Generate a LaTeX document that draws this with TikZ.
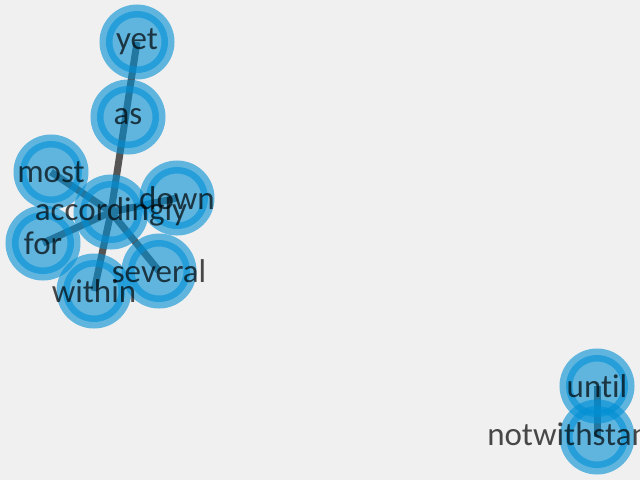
\documentclass[tikz,border=0pt]{standalone}
\usepackage{fontspec}
\setmainfont{Carlito}[Ligatures={NoCommon}]
\definecolor{bgc}{HTML}{F0F0F0}
\definecolor{nodec}{HTML}{008FD5}
\definecolor{edgec}{HTML}{555555}
\tikzset{
  vtx/.style={circle, minimum size=62pt, inner sep=0pt, line width=13pt, draw=nodec, fill=nodec, draw opacity=0.6, fill opacity=0.6},
  lbl/.style={inner sep=0pt, text=black, text opacity=0.7, font=\fontsize{33}{33}\selectfont},
  lnk/.style={draw=edgec, line width=7pt}
}
\begin{document}
\begin{tikzpicture}[x=1pt,y=-1pt]
\fill[bgc] (0,0) rectangle (640,480);
\useasboundingbox (0,0) rectangle (640,480);
\clip (0,0) rectangle (640,480);
% positions
\coordinate (yet) at (137,42);
\coordinate (as) at (128,117);
\coordinate (most) at (51,172);
\coordinate (acc) at (111,212);
\coordinate (down) at (177,198);
\coordinate (for) at (43,243);
\coordinate (several) at (159,271);
\coordinate (within) at (94,291);
\coordinate (until) at (597,386);
\coordinate (notw) at (597,437);
% edges
\draw[lnk] (acc) -- (yet);
\draw[lnk] (acc) -- (most);
\draw[lnk] (acc) -- (down);
\draw[lnk] (acc) -- (for);
\draw[lnk] (acc) -- (several);
\draw[lnk] (acc) -- (within);
\draw[lnk] (until) -- (notw);
% nodes
\foreach \n in {yet,as,most,acc,down,for,several,within,until,notw}
  \node[vtx] (c-\n) at (\n) {};
% labels
\node[lbl] (t-yet) at (yet) {yet};
\node[lbl] (t-as) at (as) {as};
\node[lbl] (t-most) at (most) {most};
\node[lbl] (t-acc) at (acc) {accordingly};
\node[lbl] (t-down) at (down) {down};
\node[lbl] (t-for) at (for) {for};
\node[lbl] (t-several) at (several) {several};
\node[lbl] (t-within) at (within) {within};
\node[lbl] (t-until) at (until) {until};
\node[lbl] (t-notw) at (notw) {notwithstanding};
\end{tikzpicture}
\end{document}
